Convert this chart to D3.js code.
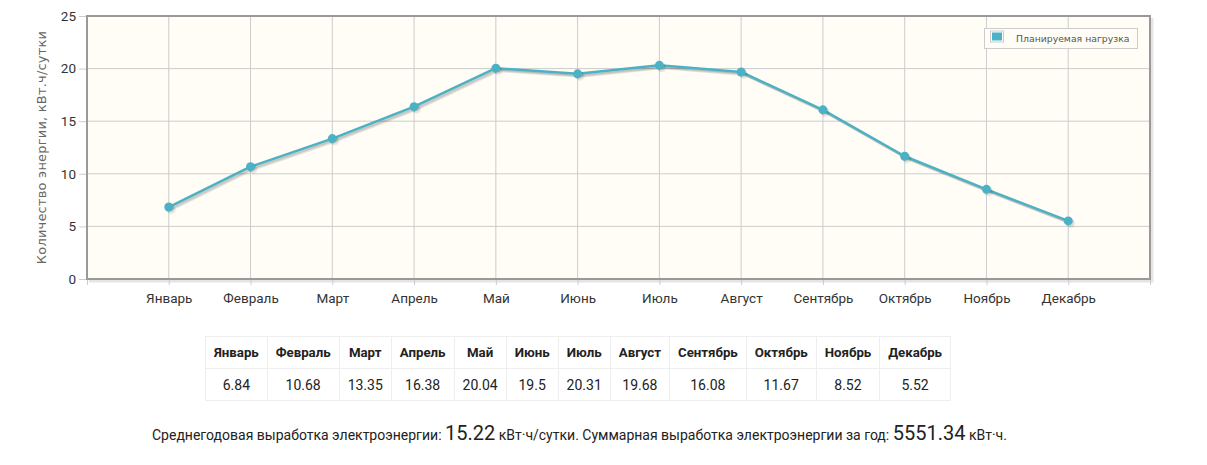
<!DOCTYPE html>
<html><head><meta charset="utf-8">
<script src="https://cdn.jsdelivr.net/npm/d3@7/dist/d3.min.js"></script>
<style>
body{margin:0;background:#fff;font-family:Roboto,sans-serif;width:1207px;height:465px;overflow:hidden;position:relative}
svg{position:absolute;left:0;top:0}
#tbl{position:absolute;left:205px;top:336px;border-collapse:collapse;font-family:Roboto,sans-serif;color:#222}
#tbl td,#tbl th{border:1px solid #eee;padding:0 8px;height:31px;text-align:center;white-space:nowrap}
#tbl th{font-weight:bold;font-size:13.25px}
#tbl td{font-size:14px}
#foot{position:absolute;left:152px;top:421px;font-size:14px;color:#222;white-space:nowrap}
#foot .big{font-size:20px}
</style></head><body>
<svg id="chart" width="1207" height="330"></svg>
<table id="tbl"></table>
<div id="foot"></div>
<script>
const months = ["Январь","Февраль","Март","Апрель","Май","Июнь","Июль","Август","Сентябрь","Октябрь","Ноябрь","Декабрь"];
const values = [6.84,10.68,13.35,16.38,20.04,19.5,20.31,19.68,16.08,11.67,8.52,5.52];
const yTicks = [0,5,10,15,20,25];
const seriesName = "Планируемая нагрузка";
const yLabel = "Количество энергии, кВт.ч/сутки";
const avgValue = "15.22";
const totalValue = "5551.34";

const L=87,R=1150,T=16,B=279;
const svg=d3.select("#chart");
const x=d3.scaleLinear().domain([0,months.length+1]).range([L,R]);
const y=d3.scaleLinear().domain([0,25]).range([B,T]);
const xTickVals=d3.range(0,months.length+2);

// background
svg.append("rect").attr("x",L).attr("y",T).attr("width",R-L).attr("height",B-T).attr("fill","#fffdf6");
// grid
svg.append("g").selectAll("line").data(xTickVals.slice(1,-1)).join("line")
  .attr("x1",d=>x(d)).attr("x2",d=>x(d)).attr("y1",T).attr("y2",B).attr("stroke","#cccccc").attr("stroke-width",1);
svg.append("g").selectAll("line").data(yTicks.slice(1,-1)).join("line")
  .attr("x1",L).attr("x2",R).attr("y1",d=>y(d)).attr("y2",d=>y(d)).attr("stroke","#cccccc").attr("stroke-width",1);
// border shadow
for(let i=1;i<=3;i++){
  svg.append("path").attr("d",`M${R+i},${T+2}L${R+i},${B+i}L${L+2},${B+i}`).attr("fill","none")
    .attr("stroke","rgba(0,0,0,0.07)").attr("stroke-width",1.5);
}
svg.append("rect").attr("x",L).attr("y",T).attr("width",R-L).attr("height",B-T).attr("fill","none").attr("stroke","#999").attr("stroke-width",2);

// x axis
const xAxis=d3.axisBottom(x).tickValues(xTickVals).tickSize(5).tickPadding(8)
  .tickFormat(d=>(d>=1&&d<=months.length)?months[d-1]:"");
const gx=svg.append("g").attr("transform",`translate(0,${B+1})`).call(xAxis);
gx.select(".domain").remove();
gx.selectAll("line").attr("stroke","#ccc");
gx.selectAll("text").attr("fill","#333").style("font-family","Roboto,sans-serif").style("font-size","13.5px");

// y axis
const yAxis=d3.axisLeft(y).tickValues(yTicks).tickSize(7).tickPadding(3);
const gy=svg.append("g").attr("transform",`translate(${L-1},0)`).call(yAxis);
gy.select(".domain").remove();
gy.selectAll("line").attr("stroke","#ccc");
gy.selectAll("text").attr("fill","#333").style("font-family","Roboto,sans-serif").style("font-size","13.5px");

svg.append("text").attr("transform",`translate(46,${(T+B)/2}) rotate(-90)`).attr("text-anchor","middle")
  .attr("fill","#666").style("font-family","DejaVu Sans,sans-serif").style("font-size","13px").style("letter-spacing","0.2px").text(yLabel);

// line + shadow
const line=d3.line().x((d,i)=>x(i+1)).y(d=>y(d));
for(let i=1;i<=3;i++){
  svg.append("path").datum(values).attr("d",line).attr("fill","none")
    .attr("stroke","rgba(0,0,0,0.1)").attr("stroke-width",2.5)
    .attr("transform",`translate(${0.9*i},${0.9*i})`);
}
svg.append("path").datum(values).attr("d",line).attr("fill","none").attr("stroke","#4bb2c5").attr("stroke-width",2.5).attr("stroke-linejoin","round");
for(let i=1;i<=3;i++){
  svg.append("g").attr("transform",`translate(${0.9*i},${0.9*i})`).selectAll("circle").data(values).join("circle")
    .attr("cx",(d,j)=>x(j+1)).attr("cy",d=>y(d)).attr("r",4.5).attr("fill","rgba(0,0,0,0.05)");
}
svg.append("g").selectAll("circle").data(values).join("circle")
  .attr("cx",(d,i)=>x(i+1)).attr("cy",d=>y(d)).attr("r",4.5).attr("fill","#4bb2c5");

// legend
const lg=svg.append("g");
lg.append("rect").attr("x",984.5).attr("y",28.5).attr("width",153).attr("height",20).attr("fill","#fffdf6").attr("stroke","#ccc");
lg.append("rect").attr("x",990.5).attr("y",31).attr("width",13).attr("height",11).attr("fill","#fff").attr("stroke","#ccc");
lg.append("rect").attr("x",992).attr("y",32.5).attr("width",10).attr("height",8).attr("fill","#4bb2c5");
lg.append("text").attr("x",1016).attr("y",42).attr("fill","#555").style("font-family","DejaVu Sans,sans-serif").style("font-size","9.3px").text(seriesName);

// table
const tbl=d3.select("#tbl");
tbl.append("tr").selectAll("th").data(months).join("th").text(d=>d);
tbl.append("tr").selectAll("td").data(values).join("td").text(d=>d);

// footer
const foot=d3.select("#foot");
foot.append("span").text("Среднегодовая выработка электроэнергии: ");
foot.append("span").attr("class","big").text(avgValue);
foot.append("span").text(" кВт·ч/сутки. Суммарная выработка электроэнергии за год: ");
foot.append("span").attr("class","big").text(totalValue);
foot.append("span").text(" кВт·ч.");
</script>
</body></html>
